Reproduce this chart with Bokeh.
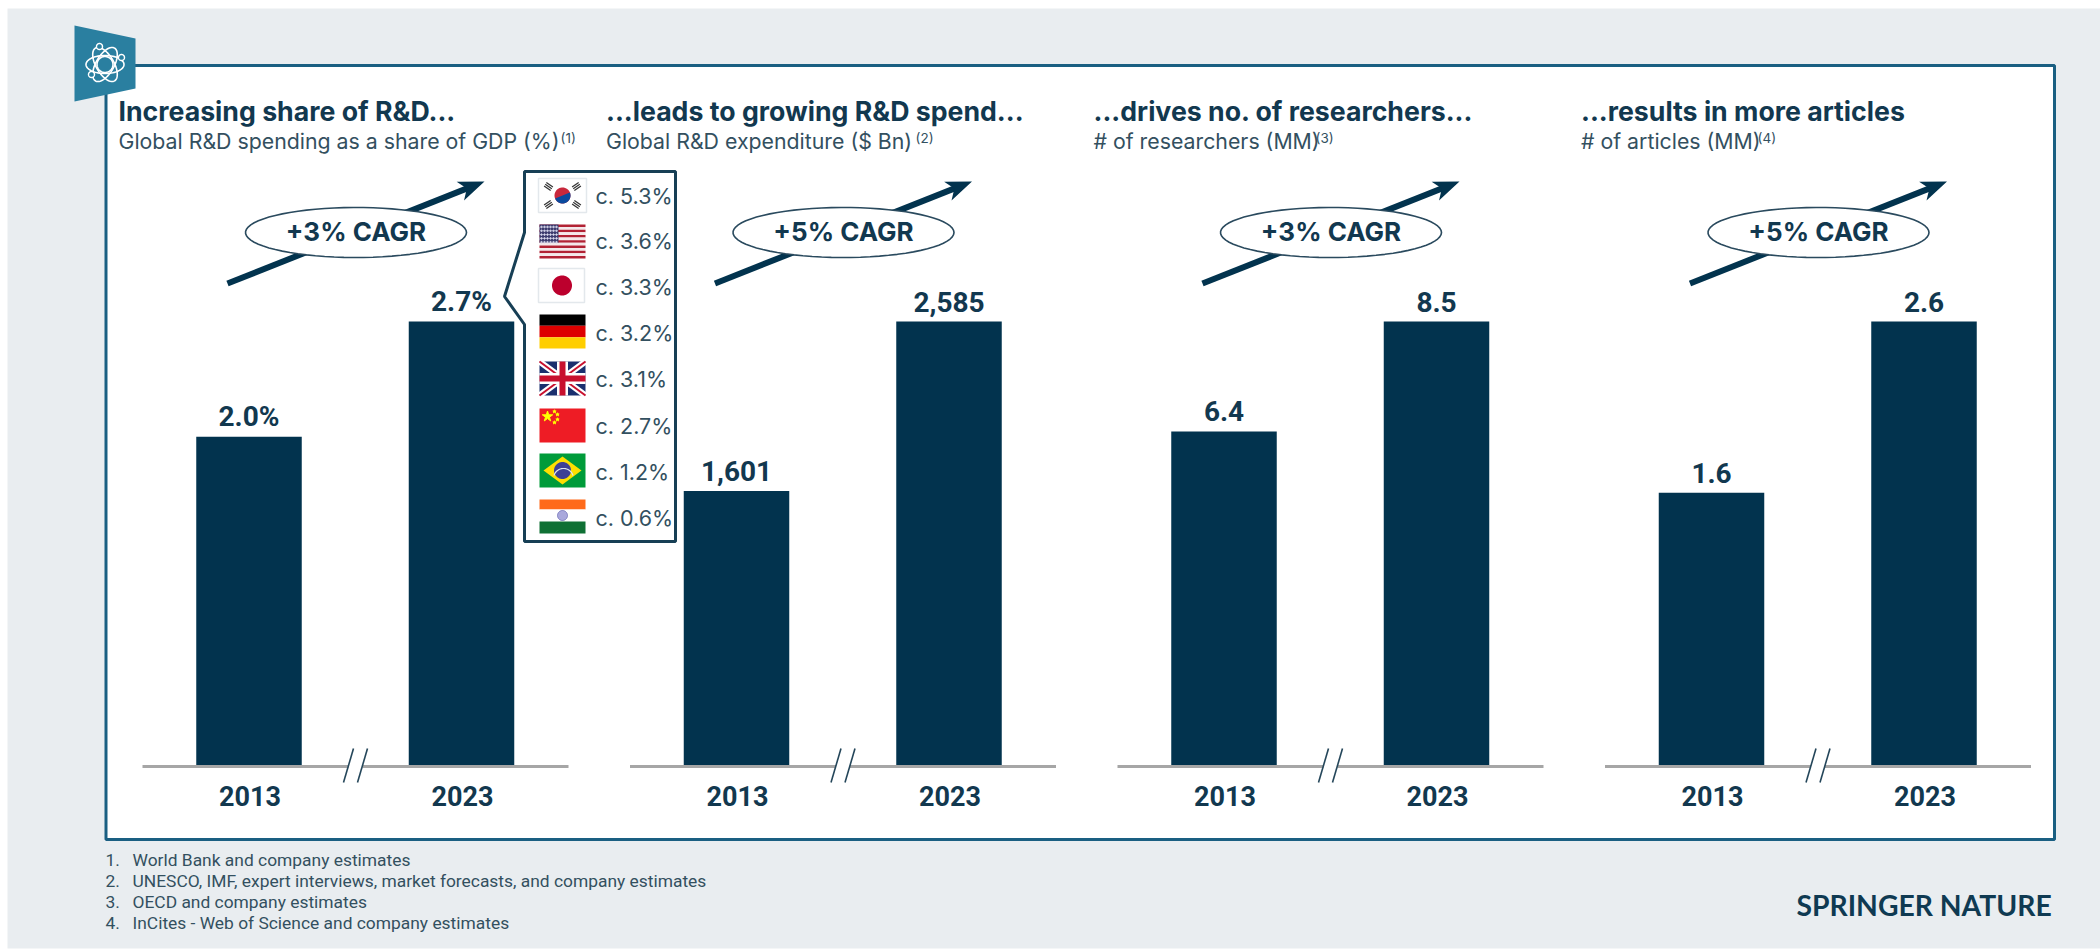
import numpy as np
from bokeh.core.properties import value
from bokeh.embed import file_html
from bokeh.models import Range1d
from bokeh.plotting import figure
from bokeh.resources import INLINE

# ---- chart data ----
panel_titles = ["Increasing share of R&D...", "...leads to growing R&D spend...",
                "...drives no. of researchers...", "...results in more articles"]
panel_subtitles = ["Global R&D spending as a share of GDP (%)", "Global R&D expenditure ($ Bn)",
                   "# of researchers (MM)", "# of articles (MM)"]
years = ["2013", "2023"]
share_of_gdp = [2.0, 2.7]
rd_expenditure = [1601, 2585]
researchers = [6.4, 8.5]
articles = [1.6, 2.6]
value_labels = [["2.0%", "2.7%"], ["1,601", "2,585"], ["6.4", "8.5"], ["1.6", "2.6"]]
cagr_labels = ["+3% CAGR", "+5% CAGR", "+3% CAGR", "+5% CAGR"]
countries = ["KR", "US", "JP", "DE", "GB", "CN", "BR", "IN"]
country_shares = [5.3, 3.6, 3.3, 3.2, 3.1, 2.7, 1.2, 0.6]
footnotes = ["World Bank and company estimates",
             "UNESCO, IMF, expert interviews, market forecasts, and company estimates",
             "OECD and company estimates",
             "InCites - Web of Science and company estimates"]

# ---- styling and layout ----
W, H = 2100, 949
NAVY = "#02334e"
TEXT = "#12384f"
SUB = "#33505f"
FRAME = "#1a5f82"
BASE_Y, TOP_Y = 766, 321
STEP = 487.5
BAR_W = 105.5
BAR_X = (248.5, 461)
FONT = "Roboto"
WIDE = "Inter"
series = [share_of_gdp, rd_expenditure, researchers, articles]

p = figure(width=W, height=H, x_range=Range1d(0, W), y_range=Range1d(H, 0),
           output_backend="svg", toolbar_location=None, min_border=0,
           border_fill_color="white", background_fill_color="white", outline_line_color=None)
p.xaxis.visible = False
p.yaxis.visible = False
p.grid.visible = False


def box(x0, y0, x1, y1, color, line=None, lw=1):
    p.quad(left=[x0], right=[x1], top=[y0], bottom=[y1], fill_color=color,
           line_color=line, line_width=lw)


def label(x, y, s, size, color=TEXT, bold=False, align="left", font=FONT):
    p.text(x=[x], y=[y], text=[s], text_font=value(font), text_font_size=f"{size}px",
           text_font_style="bold" if bold else "normal", text_color=color,
           text_align=align, text_baseline="middle")


def poly(xs, ys, color, line=None, lw=1):
    p.patch(x=list(xs), y=list(ys), fill_color=color, line_color=line, line_width=lw)


def ring(cx, cy, rx, ry, angle=0.0, n=72):
    t = np.linspace(0, 2 * np.pi, n)
    x, y = rx * np.cos(t), ry * np.sin(t)
    c, s = np.cos(angle), np.sin(angle)
    return cx + x * c - y * s, cy + x * s + y * c


# page backdrop and framed panel
box(7, 8, W, 948, "#e9edf0")
box(105.5, 65, 2054, 839, "white", FRAME, 3)

# corner pennant with an atom icon
poly([74, 135, 135, 74], [25, 38, 88, 101], "#2a7fa0")
for a in (0, np.pi / 3, -np.pi / 3):
    x, y = ring(104.5, 64, 19, 9, a)
    p.line(x, y, line_color="white", line_width=1.6)
x, y = ring(104.5, 64, 8, 8)
p.line(x, y, line_color="white", line_width=1.6)
for cx, cy in ((99, 46), (121, 57), (91, 74)):
    x, y = ring(cx, cy, 3, 3)
    p.patch(x, y, fill_color="#2a7fa0", line_color="white", line_width=1.4)

sup_x = [560, 915, 1315, 1757]
for i in range(4):
    off = STEP * i
    vals = series[i]
    # each panel has its own value scale, anchored on the shared baseline
    vmax = max(vals)
    units_per_px = vmax / (BASE_Y - TOP_Y)
    name = f"panel{i}"
    p.extra_y_ranges[name] = Range1d(-(H - BASE_Y) * units_per_px, BASE_Y * units_per_px)

    label(118 + off, 110.5, panel_titles[i], 26.7, TEXT, True, font=WIDE)
    label(118 + off, 140.5, panel_subtitles[i], 21.3, SUB, font=WIDE)
    label(sup_x[i], 137.5, f"({i + 1})", 13.5, SUB, font=WIDE)

    # growth arrow behind the CAGR ellipse
    x0, y0 = 227 + off, 283
    x1, y1 = 484 + off, 181
    ux, uy = (x1 - x0), (y1 - y0)
    n = np.hypot(ux, uy)
    ux, uy = ux / n, uy / n
    nx, ny = -uy, ux
    neck = 16
    p.line([x0, x1 - ux * neck], [y0, y1 - uy * neck], line_color=NAVY, line_width=6)
    poly([x1, x1 - ux * 26 + nx * 10, x1 - ux * 19, x1 - ux * 26 - nx * 10],
         [y1, y1 - uy * 26 + ny * 10, y1 - uy * 19, y1 - uy * 26 - ny * 10], NAVY)
    ex, ey = ring(355.5 + off, 232, 110.5, 25)
    p.patch(ex, ey, fill_color="white", line_color="#2a4a5e", line_width=1.6)
    label(355.5 + off, 231, cagr_labels[i], 26, TEXT, True, "center", font=WIDE)

    # bars and their value labels
    centres = [BAR_X[0] + off, BAR_X[1] + off]
    p.vbar(x=centres, top=vals, bottom=0, width=BAR_W, fill_color=NAVY, line_color=None,
           y_range_name=name)
    p.text(x=centres, y=vals, text=value_labels[i], y_offset=-20, text_font=value(FONT),
           text_font_size="28px", text_font_style="bold", text_color=TEXT, text_align="center",
           text_baseline="middle", y_range_name=name)

    # baseline, axis break and year labels
    p.line([142 + off, 568 + off], [BASE_Y, BASE_Y], line_color="#a6a6a6", line_width=3)
    poly([348 + off, 362 + off, 362 + off, 348 + off], [763, 763, 769, 769], "white")
    p.multi_line([[343 + off, 353 + off], [357 + off, 367 + off]], [[782, 748], [782, 748]],
                 line_color="#24465a", line_width=1.6)
    for c, yr in zip(centres, years):
        label(c + 1, 795, yr, 27, TEXT, True, "center")

# pop-out with national shares
poly([524, 675, 675, 524, 524, 504, 524], [171, 171, 541, 541, 324, 296, 232], "white", "#173f55", 3)

FX0, FX1 = 539, 585
flag_tops = [178, 224, 268, 314, 361, 408, 453, 499]
FH = 34
text_y = [195, 240, 286, 332, 378, 425, 471, 517]


def flag(code, y0):
    x0, x1, y1 = FX0, FX1, y0 + FH
    cx, cy = (x0 + x1) / 2, (y0 + y1) / 2
    if code == "KR":
        box(x0 - 1, y0, x1 + 1, y1, "white", "#e3e8ec", 1.5)
        x, y = ring(cx, cy, 8, 8)
        p.patch(x, y, fill_color="#c8283c", line_color=None)
        t = np.linspace(-0.4, np.pi - 0.4, 40)
        p.patch(cx + 8 * np.cos(t), cy + 8 * np.sin(t), fill_color="#0a4a9e", line_color=None)
        for dx, dy, ang in ((-14, -9, 0.6), (14, -9, -0.6), (-14, 9, -0.6), (14, 9, 0.6)):
            for k in (-2, 0, 2):
                p.line([cx + dx - 4 * np.cos(ang) + k * np.sin(ang), cx + dx + 4 * np.cos(ang) + k * np.sin(ang)],
                       [cy + dy - 4 * np.sin(ang) - k * np.cos(ang), cy + dy + 4 * np.sin(ang) - k * np.cos(ang)],
                       line_color="#333333", line_width=1.2)
    elif code == "US":
        h = FH / 13
        for k in range(13):
            box(x0, y0 + k * h, x1, y0 + (k + 1) * h, "#b22234" if k % 2 == 0 else "#f4e8ea")
        box(x0, y0, x0 + 19, y0 + 7 * h, "#3c3b6e")
        sx = [x0 + 2 + 3 * a for a in range(6) for b in range(5)]
        sy = [y0 + 2.5 + 3.8 * b for a in range(6) for b in range(5)]
        p.scatter(sx, sy, size=1.6, color="#d8d8ec", marker="circle")
    elif code == "JP":
        box(x0 - 1, y0, x1 - 1, y1, "white", "#e3e8ec", 1.5)
        x, y = ring(cx - 0.5, cy, 10, 10)
        p.patch(x, y, fill_color="#bc002d", line_color=None)
    elif code == "DE":
        box(x0, y0, x1, y0 + FH / 3, "#000000")
        box(x0, y0 + FH / 3, x1, y0 + 2 * FH / 3, "#dd0000")
        box(x0, y0 + 2 * FH / 3, x1, y1, "#ffce00")
    elif code == "GB":
        box(x0, y0, x1, y1, "#1a2f6e")
        p.multi_line([[x0, x1], [x0, x1]], [[y0, y1], [y1, y0]], line_color="white", line_width=6)
        p.multi_line([[x0, x1], [x0, x1]], [[y0, y1], [y1, y0]], line_color="#c8102e", line_width=2)
        box(x0, cy - 5.5, x1, cy + 5.5, "white")
        box(cx - 5.5, y0, cx + 5.5, y1, "white")
        box(x0, cy - 3, x1, cy + 3, "#c8102e")
        box(cx - 3, y0, cx + 3, y1, "#c8102e")
    elif code == "CN":
        box(x0, y0, x1, y1, "#ee1c25")
        p.scatter([x0 + 8], [y0 + 8], size=11, marker="star", color="#ffff00")
        p.scatter([x0 + 15, x0 + 18, x0 + 18, x0 + 15], [y0 + 3, y0 + 6, y0 + 11, y0 + 14],
                  size=3.5, marker="star", color="#ffff00")
    elif code == "BR":
        box(x0, y0, x1, y1, "#009b3a")
        poly([x0 + 4, cx, x1 - 4, cx], [cy, y0 + 3, cy, y1 - 3], "#fedf00")
        x, y = ring(cx, cy, 8.5, 8.5)
        p.patch(x, y, fill_color="#3e4095", line_color=None)
        t = np.linspace(np.pi * 1.1, np.pi * 1.9, 20)
        p.line(cx + 10 * np.cos(t) + 1, cy + 10 * np.sin(t) + 8, line_color="#dfe6f0", line_width=1.2)
    elif code == "IN":
        box(x0, y0, x1, y0 + 10, "#ff6a1a")
        box(x0, y0 + 10, x1, y0 + 22, "white")
        box(x0, y0 + 22, x1, y1, "#0f7034")
        x, y = ring(cx, y0 + 16, 5, 5)
        p.patch(x, y, fill_color="#a9a8dc", line_color="#6a6ab4", line_width=0.8)


for code, top, share, ty in zip(countries, flag_tops, country_shares, text_y):
    flag(code, top)
    label(595, ty, f"c. {share}%", 21.5, SUB, font=WIDE)

# source notes
for i, note in enumerate(footnotes):
    ny = 859 + 21 * i
    label(105, ny, f"{i + 1}.", 17.4, SUB)
    label(132, ny, note, 17.4, SUB)

# publisher wordmark
label(1796, 904, "SPRINGER NATURE", 28.3, "#0f3a52", True, font="Lato")

open("out.html", "w").write(file_html(p, INLINE))
